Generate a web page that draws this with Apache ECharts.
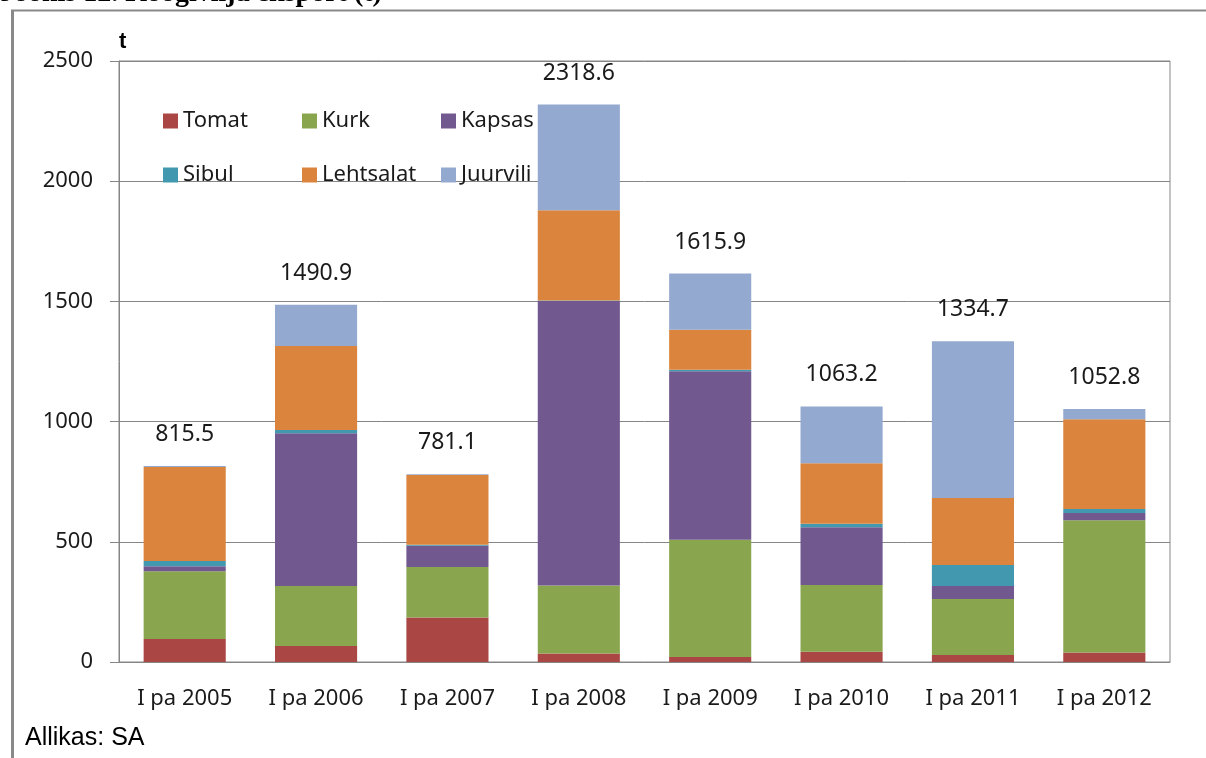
<!DOCTYPE html>
<html>
<head>
<meta charset="utf-8">
<script src="https://cdn.jsdelivr.net/npm/echarts@6/dist/echarts.min.js"></script>
<style>
html,body{margin:0;padding:0;background:#fff;}
#chart{width:1206px;height:758px;}
</style>
</head>
<body>
<div id="chart"></div>
<script>
const categories = ['I pa 2005','I pa 2006','I pa 2007','I pa 2008','I pa 2009','I pa 2010','I pa 2011','I pa 2012'];
const tomat     = [96, 66.5, 185, 35, 21, 43, 29, 39];
const kurk      = [282, 249.5, 210, 283, 488, 277, 233, 551];
const kapsas    = [20, 636, 89, 1184, 700, 241, 54, 30];
const sibul     = [22, 13, 4, 2, 7, 14, 87, 16];
const lehtsalat = [391, 349, 289.5, 375, 166, 252, 279, 374];
const juurvili  = [4.5, 172, 3.6, 439.6, 233.9, 236.2, 652.7, 42.8];
const totals    = ['815.5','1490.9','781.1','2318.6','1615.9','1063.2','1334.7','1052.8'];
const yTicks = { min: 0, max: 2500, interval: 500 };

const colors = {
  Tomat: '#AA4644', Kurk: '#89A54E', Kapsas: '#71588F',
  Sibul: '#4198AF', Lehtsalat: '#DB843D', Juurvili: '#93A9CF'
};

const textFont = 'Noto Sans';
const gridColor = '#868686';

function mk(name, data, isTop) {
  const s = {
    name: name, type: 'bar', stack: 'total', data: data,
    barCategoryGap: '37.5%',
    itemStyle: { color: colors[name] },
    emphasis: { disabled: true }
  };
  if (isTop) {
    s.label = {
      show: true, position: 'top', distance: 20,
      formatter: p => totals[p.dataIndex],
      fontFamily: textFont, fontSize: 23, color: '#1a1a1a'
    };
  }
  return s;
}

const legendBase = {
  orient: 'horizontal', left: 163, padding: 0, itemWidth: 15, itemHeight: 15, itemGap: 5,
  icon: 'rect', selectedMode: false,
  textStyle: { fontFamily: textFont, fontSize: 22, color: '#1a1a1a', width: 114, lineHeight: 22 }
};

const chart = echarts.init(document.getElementById('chart'), null, { renderer: 'canvas' });
chart.setOption({
  animation: false,
  backgroundColor: '#fff',
  grid: { left: 119, right: 36, top: 61, bottom: 96, show: true, borderColor: gridColor, borderWidth: 1 },
  legend: [
    Object.assign({}, legendBase, { top: 110, data: ['Tomat','Kurk','Kapsas'] }),
    Object.assign({}, legendBase, { top: 164, data: ['Sibul','Lehtsalat','Juurvili'] })
  ],
  xAxis: {
    type: 'category', data: categories,
    axisLine: { lineStyle: { color: gridColor } },
    axisTick: { length: 9, lineStyle: { color: gridColor } },
    axisLabel: { fontFamily: textFont, fontSize: 22, color: '#1a1a1a', margin: 26 }
  },
  yAxis: {
    type: 'value', min: yTicks.min, max: yTicks.max, interval: yTicks.interval,
    axisLine: { show: true, lineStyle: { color: gridColor } },
    axisTick: { show: true, length: 9, lineStyle: { color: gridColor } },
    splitLine: { lineStyle: { color: gridColor, width: 1 } },
    axisLabel: { fontFamily: textFont, fontSize: 22, color: '#1a1a1a', margin: 26, formatter: v => String(v) }
  },
  graphic: [
    { type: 'line', shape: { x1: 12.5, y1: 10, x2: 12.5, y2: 758 }, style: { stroke: '#898989', lineWidth: 3 } },
    { type: 'line', shape: { x1: 11, y1: 10.5, x2: 1206, y2: 10.5 }, style: { stroke: '#898989', lineWidth: 2 } },
    { type: 'text', x: 0, y: 8, style: { text: 'Joonis 12. Köögivilja eksport (t)', font: 'bold 28px "Liberation Serif"', fill: '#000', align: 'left', verticalAlign: 'bottom' } },
    { type: 'text', x: 119, y: 42, style: { text: 't', font: 'bold 22px "Liberation Sans"', fill: '#000', align: 'left', verticalAlign: 'middle' } },
    { type: 'text', x: 25, y: 738, style: { text: 'Allikas: SA', font: '25px "Liberation Sans"', fill: '#000', align: 'left', verticalAlign: 'middle' } }
  ],
  series: [
    mk('Tomat', tomat), mk('Kurk', kurk), mk('Kapsas', kapsas),
    mk('Sibul', sibul), mk('Lehtsalat', lehtsalat), mk('Juurvili', juurvili, true)
  ]
});
</script>
</body>
</html>
